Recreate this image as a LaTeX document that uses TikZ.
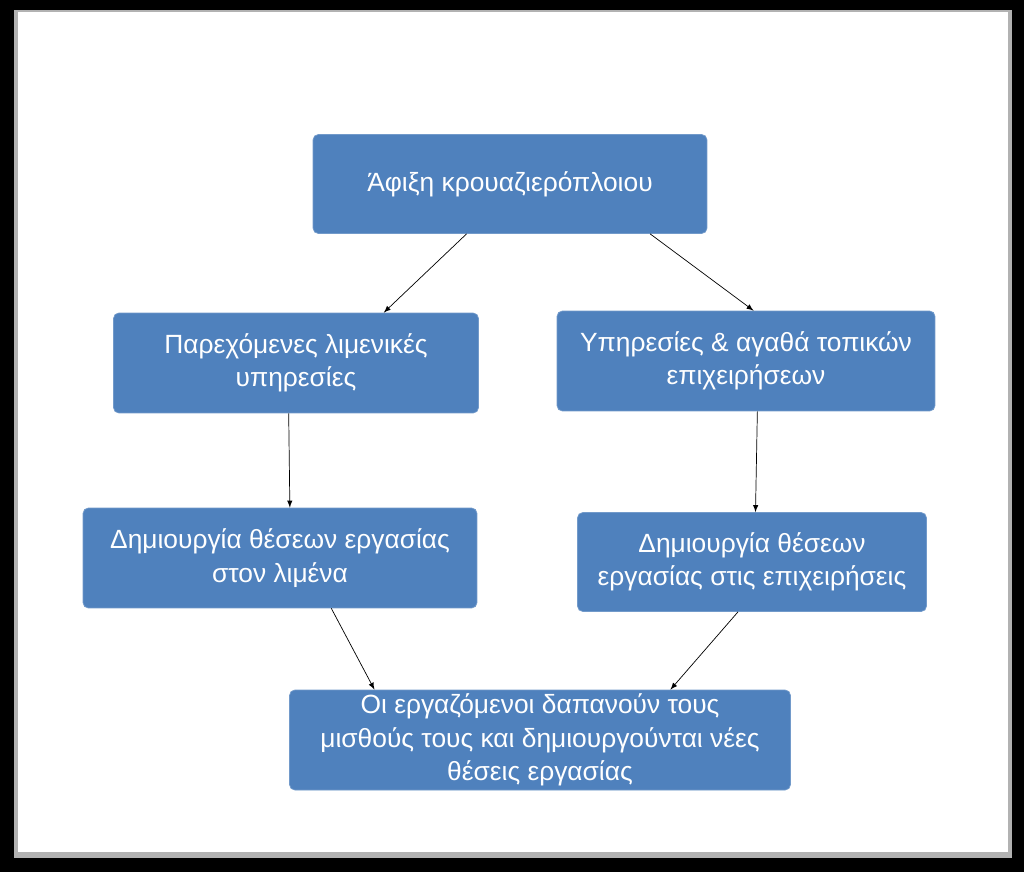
\documentclass[tikz,border=0pt]{standalone}
\usepackage{fontspec}
\setmainfont{Liberation Sans}
\usetikzlibrary{calc}
\definecolor{boxblue}{HTML}{4F81BD}
\tikzset{
  stepbox/.style={draw=boxblue!80!white, fill=boxblue, rounded corners=3pt,
    text=white, align=center, inner sep=2pt,
    font=\fontsize{15}{19}\selectfont},
  flow/.style={-latex, thin, black}
}
\begin{document}
\begin{tikzpicture}[x=0.02cm,y=-0.02cm]
\useasboundingbox (0,0) rectangle (1024,872);
% frame
\fill[black] (0,0) rectangle (1024,872);
\fill[gray!60] (14,10) rectangle (1012,858);
\fill[white] (18,12) rectangle (1008,852);
% boxes
\node[stepbox, minimum width=7.88cm, minimum height=1.98cm] (arr) at (510,184) {Άφιξη κρουαζιερόπλοιου};
\node[stepbox, minimum width=7.3cm, minimum height=2cm] (port) at (296,363) {Παρεχόμενες λιμενικές\\υπηρεσίες};
\node[stepbox, minimum width=7.56cm, minimum height=2cm] (local) at (746,361) {Υπηρεσίες \& αγαθά τοπικών\\επιχειρήσεων};
\node[stepbox, minimum width=7.88cm, minimum height=2cm] (jobport) at (280,558) {Δημιουργία θέσεων εργασίας\\στον λιμένα};
\node[stepbox, minimum width=6.98cm, minimum height=1.98cm] (jobloc) at (752,562) {Δημιουργία θέσεων\\εργασίας στις επιχειρήσεις};
\node[stepbox, minimum width=10.02cm, minimum height=2cm] (wages) at (540,740) {Οι εργαζόμενοι δαπανούν τους\\μισθούς τους και δημιουργούνται νέες\\θέσεις εργασίας};
% arrows
\draw[flow] ($(arr.south west)!0.39!(arr.south east)$) -- ($(port.north west)!0.74!(port.north east)$);
\draw[flow] ($(arr.south west)!0.855!(arr.south east)$) -- ($(local.north west)!0.52!(local.north east)$);
\draw[flow] ($(port.south west)!0.48!(port.south east)$) -- ($(jobport.north west)!0.525!(jobport.north east)$);
\draw[flow] ($(local.south west)!0.53!(local.south east)$) -- ($(jobloc.north west)!0.51!(jobloc.north east)$);
\draw[flow] ($(jobport.south west)!0.63!(jobport.south east)$) -- ($(wages.north west)!0.17!(wages.north east)$);
\draw[flow] ($(jobloc.south west)!0.46!(jobloc.south east)$) -- ($(wages.north west)!0.76!(wages.north east)$);
\end{tikzpicture}
\end{document}
